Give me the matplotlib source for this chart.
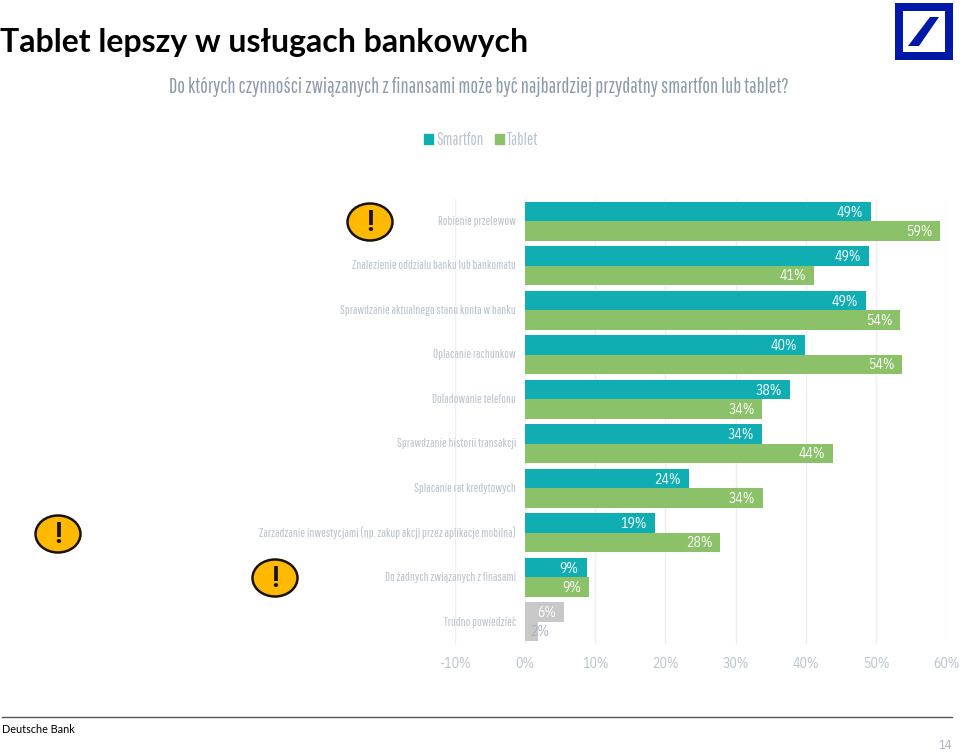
import matplotlib
matplotlib.use("Agg")
import matplotlib.pyplot as plt
from matplotlib.patches import Ellipse, Polygon, Rectangle
import numpy as np
import logging

logging.getLogger('matplotlib.font_manager').setLevel(logging.ERROR)

narrow = ['Pathway Gothic One', 'Roboto Condensed', 'DejaVu Sans']
plex = ['IBM Plex Sans Condensed', 'Roboto Condensed', 'DejaVu Sans']

categories = ['Robienie przelewow', 'Znalezienie oddzialu banku lub bankomatu',
              'Sprawdzanie aktualnego stanu konta w banku', 'Oplacanie rachunkow',
              'Doladowanie telefonu', 'Sprawdzanie historii transakcji',
              'Splacanie rat kredytowych',
              'Zarzadzanie inwestycjami (np. zakup akcji przez aplikacje mobilna)',
              'Do żadnych związanych z finasami', 'Trudno powiedzieć']
smartfon = [49.3, 49.0, 48.6, 39.9, 37.8, 33.8, 23.4, 18.5, 8.8, 5.6]
tablet = [59.1, 41.2, 53.4, 53.7, 33.8, 43.9, 33.9, 27.8, 9.1, 1.8]
smartfon_labels = ['49%', '49%', '49%', '40%', '38%', '34%', '24%', '19%', '9%', '6%']
tablet_labels = ['59%', '41%', '54%', '54%', '34%', '44%', '34%', '28%', '9%', '2%']
xticks = [-10, 0, 10, 20, 30, 40, 50, 60]

teal = '#10AEB2'
green = '#8BC168'
grey = '#C8C8C8'
label_grey = '#B9C2CE'

W, H = 960, 752
fig = plt.figure(figsize=(W / 100, H / 100), dpi=100)

# wykres
ax = fig.add_axes([455 / W, 1 - 644 / H, 491 / W, 445 / H])
y = np.arange(len(categories))
h = 0.433
ax.barh(y - h / 2, smartfon, h, color=[teal] * 9 + [grey])
ax.barh(y + h / 2, tablet, h, color=[green] * 9 + [grey])
ax.set_xlim(-10, 60)
ax.set_ylim(len(categories) - 0.5, -0.5)
ax.set_xticks(xticks)
ax.set_xticklabels([f'{t}%' for t in xticks], fontsize=10, color=label_grey, family=plex)
ax.set_yticks([])
ax.tick_params(axis='x', length=0, pad=9)
ax.grid(axis='x', color='#EFEFEF', lw=1)
ax.set_axisbelow(True)
for s in ax.spines.values():
    s.set_visible(False)
ax.patch.set_alpha(0)

for i, c in enumerate(categories):
    ax.annotate(c, (0, i), xytext=(-6.5, 0), textcoords='offset points', ha='right', va='center',
                fontsize=9, color=label_grey, family=narrow)
    ax.annotate(smartfon_labels[i], (smartfon[i], i - h / 2), xytext=(-6, -0.7), textcoords='offset points',
                ha='right', va='center', fontsize=10, color='white', family=plex)
    lab_col = '#A9B4C2' if i == 9 else 'white'
    xt = 8 if i == 9 else -5.5
    ax.annotate(tablet_labels[i], (tablet[i], i + h / 2), xytext=(xt, -0.7), textcoords='offset points',
                ha='right', va='center', fontsize=10, color=lab_col, family=plex)

# warstwa w pikselach: naglowek, ikony, logo, stopka
ov = fig.add_axes([0, 0, 1, 1], zorder=-1)
ov.set_xlim(0, W)
ov.set_ylim(H, 0)
ov.axis('off')

ov.text(0, 52, 'Tablet lepszy w usługach bankowych', fontsize=23, fontweight='bold',
        family=['Lato', 'DejaVu Sans'], color='black', ha='left', va='baseline')
ov.text(169, 93, 'Do których czynności związanych z finansami może być najbardziej przydatny smartfon lub tablet?',
        fontsize=14.8, color='#8D9AAA', family=narrow, ha='left', va='baseline')

handles = [Rectangle((0, 0), 1, 1, color=teal), Rectangle((0, 0), 1, 1, color=green)]
leg = ov.legend(handles, ['Smartfon', 'Tablet'], loc='center', bbox_to_anchor=(481, 140),
                bbox_transform=ov.transData, ncol=2, frameon=False, handlelength=0.54, handleheight=0.54,
                handletextpad=0.2, columnspacing=0.66, prop={'family': narrow, 'size': 12})
for t in leg.get_texts():
    t.set_color(label_grey)

for cx, cy, w, hh in [(370, 222, 45, 37), (58, 534, 45, 37), (275, 578, 45, 37)]:
    ov.add_patch(Ellipse((cx, cy), w, hh, fc='#FFB900', ec='#1A1205', lw=1.8))
    ov.text(cx, cy + 1, '!', fontsize=21, fontweight='bold', ha='center', va='center', color='#1A1205',
            family=['Roboto Condensed', 'DejaVu Sans'])

ov.add_patch(Rectangle((895, 3), 58, 57, fc='#0018A8', ec='none'))
ov.add_patch(Rectangle((903, 11), 42, 41, fc='white', ec='none'))
ov.add_patch(Polygon([(930, 17), (939, 17), (919, 46), (908, 46)], fc='#0018A8', ec='none'))

ov.plot([2, 952], [716.5, 716.5], color='#555555', lw=1)
ov.text(2, 733, 'Deutsche Bank', fontsize=7.8, family=['Lato', 'DejaVu Sans'], color='black', va='baseline')
ov.text(952, 749, '14', fontsize=9, color='#A6B0BC', ha='right', va='baseline', family=plex)

fig.savefig('out.png', dpi=100)
